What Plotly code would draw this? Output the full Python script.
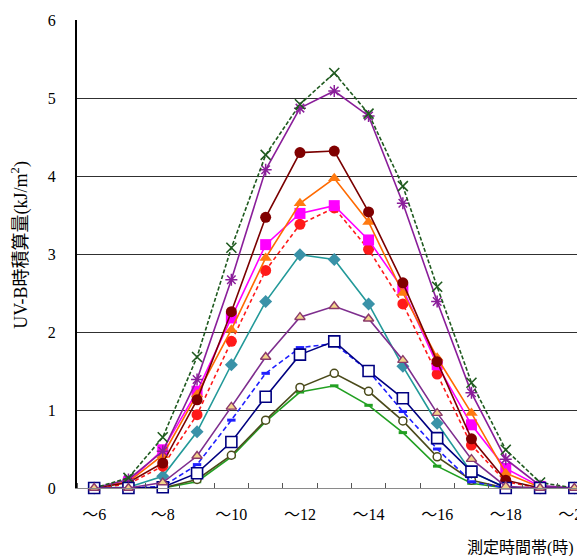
import plotly.graph_objects as go

categories = ["～6", "～7", "～8", "～9", "～10", "～11", "～12", "～13",
              "～14", "～15", "～16", "～17", "～18", "～19", "～20"]
x_idx = list(range(len(categories)))
tick_idx = [0, 2, 4, 6, 8, 10, 12, 14]
tick_text = [categories[i] for i in tick_idx]
boundaries = [i - 0.5 for i in range(len(categories) + 1)]

s_green_x   = [0, 0.13, 0.65, 1.68, 3.08, 4.27, 4.92, 5.32, 4.80, 3.87, 2.58, 1.35, 0.49, 0.07, 0]
s_purple_st = [0, 0.11, 0.47, 1.39, 2.67, 4.08, 4.87, 5.09, 4.77, 3.65, 2.39, 1.22, 0.37, 0.03, 0]
s_maroon    = [0, 0.07, 0.32, 1.13, 2.26, 3.47, 4.30, 4.32, 3.54, 2.63, 1.62, 0.63, 0.10, 0, 0]
s_orange    = [0, 0.08, 0.42, 1.20, 2.03, 2.95, 3.65, 3.97, 3.41, 2.50, 1.67, 0.96, 0.19, 0.01, 0]
s_magenta   = [0, 0.08, 0.49, 1.24, 2.18, 3.12, 3.52, 3.62, 3.18, 2.55, 1.58, 0.81, 0.25, 0.02, 0]
s_red       = [0, 0.05, 0.28, 0.94, 1.88, 2.79, 3.38, 3.59, 3.06, 2.36, 1.46, 0.55, 0.08, 0, 0]
s_teal      = [0, 0.01, 0.15, 0.72, 1.58, 2.39, 2.99, 2.93, 2.36, 1.56, 0.83, 0.20, 0.01, 0, 0]
s_purple_tr = [0, 0, 0.07, 0.41, 1.04, 1.68, 2.19, 2.33, 2.17, 1.64, 0.96, 0.37, 0.02, 0, 0]
s_blue_dash = [0, 0, 0.02, 0.30, 0.87, 1.47, 1.80, 1.85, 1.50, 0.98, 0.50, 0.08, 0, 0, 0]
s_navy_sq   = [0, 0, 0.01, 0.19, 0.59, 1.17, 1.71, 1.88, 1.50, 1.15, 0.64, 0.21, 0, 0, 0]
s_olive     = [0, 0, 0, 0.11, 0.42, 0.87, 1.29, 1.47, 1.24, 0.86, 0.40, 0.10, 0, 0, 0]
s_green     = [0, 0, 0, 0.08, 0.40, 0.85, 1.23, 1.31, 1.06, 0.71, 0.28, 0.06, 0, 0, 0]

fig = go.Figure()

def add(y, color, dash, marker):
    fig.add_trace(go.Scatter(
        x=x_idx, y=y, mode="lines+markers",
        line=dict(color=color, width=1.6, dash=dash),
        marker=marker, showlegend=False, cliponaxis=False))

add(s_green, "#22A022", "solid",
    dict(symbol="line-ew-open", size=6, line=dict(width=3, color="#22A022")))
add(s_olive, "#4A4A1A", "solid",
    dict(symbol="circle", size=8, color="white", line=dict(width=1.5, color="#4A4A1A")))
add(s_blue_dash, "#1F1FFF", "5px,3px",
    dict(symbol="line-ew-open", size=6, line=dict(width=3, color="#1F1FFF")))
add(s_teal, "#229999", "solid",
    dict(symbol="diamond", size=10, color="#3A92A8", line=dict(width=0)))
add(s_red, "#FF1A1A", "4px,3px",
    dict(symbol="circle", size=11, color="#FF1A1A", line=dict(width=0)))
add(s_magenta, "#FF00FF", "solid",
    dict(symbol="square", size=11, color="#FF00FF", line=dict(width=0)))
add(s_orange, "#FF6A00", "solid",
    dict(symbol="triangle-up", size=11, color="#FF7A10", line=dict(width=0)))
add(s_maroon, "#7A0000", "solid",
    dict(symbol="circle", size=11, color="#800000", line=dict(width=0)))
add(s_purple_st, "#8A1E9A", "solid",
    dict(symbol="asterisk-open", size=10, line=dict(width=1.5, color="#8A1E9A")))
add(s_green_x, "#1F5A1F", "4px,2px",
    dict(symbol="x-thin-open", size=10, line=dict(width=1.6, color="#1F5A1F")))
add(s_navy_sq, "#000080", "solid",
    dict(symbol="square", size=11, color="white", line=dict(width=1.6, color="#000080")))
add(s_purple_tr, "#7E2E8E", "solid",
    dict(symbol="triangle-up", size=9, color="#F3D48A", line=dict(width=1.4, color="#8B3A6A")))

tick_font = dict(family="Liberation Serif, Noto Sans CJK JP", size=16, color="black")

fig.update_layout(
    width=577, height=548,
    margin=dict(l=69, r=0, t=12, b=68),
    paper_bgcolor="white", plot_bgcolor="white",
    xaxis=dict(
        range=[-0.5, 14.31], tickmode="array", tickvals=tick_idx, ticktext=tick_text,
        ticks="", showgrid=False, zeroline=False,
        showline=True, linecolor="#8a8a8a", linewidth=1,
        tickfont=tick_font, ticklabelstandoff=12, automargin=False,
        ticklabeloverflow="allow",
        minor=dict(tickmode="array", tickvals=boundaries, ticks="inside",
                   ticklen=5, tickcolor="#555", tickwidth=1, showgrid=False),
    ),
    yaxis=dict(
        range=[0, 6], tickmode="array", tickvals=[0, 1, 2, 3, 4, 5, 6],
        ticks="", showgrid=True, gridcolor="#303030", gridwidth=1, zeroline=False,
        showline=True, linecolor="black", linewidth=2,
        tickfont=tick_font, ticklabelstandoff=16, automargin=False,
    ),
    annotations=[
        dict(text="UV-B時積算量(kJ/m<sup>2</sup>)", textangle=-90,
             xref="paper", yref="paper", x=-0.112, y=0.52,
             xanchor="center", yanchor="middle", showarrow=False,
             font=dict(family="Liberation Serif, Noto Sans CJK JP", size=18, color="black")),
        dict(text="測定時間帯(時)",
             xref="paper", yref="paper", x=1.0, y=-0.128, xshift=-9,
             xanchor="right", yanchor="middle", showarrow=False,
             font=dict(family="Liberation Serif, Noto Sans CJK JP", size=16, color="black")),
    ],
)

fig.write_html("out.html")
